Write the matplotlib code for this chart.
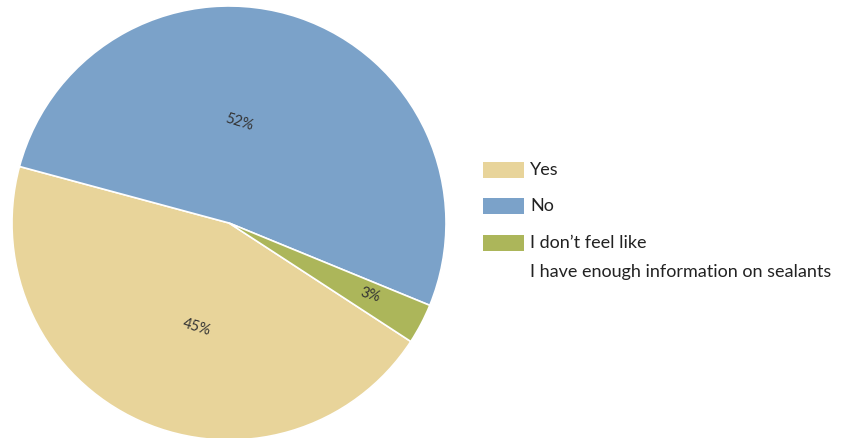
import numpy as np
import matplotlib
matplotlib.use("Agg")
import matplotlib.pyplot as plt
from matplotlib.patches import Rectangle

# survey answers
labels = ["Yes", "No", "I don\u2019t feel like\nI have enough information on sealants"]
values = [45, 52, 3]
colors = ["#E8D49A", "#7BA2C9", "#ACB65A"]

W, H = 852, 439
fig = plt.figure(figsize=(W / 100, H / 100), dpi=100)

# pie centre and radius in pixels
cx, cy, r = 229, 224, 217
ax = fig.add_axes([(cx - r) / W, (H - cy - r) / H, 2 * r / W, 2 * r / H])
wedges, _ = ax.pie(values, colors=colors, startangle=-33.1, counterclock=False,
                   wedgeprops=dict(edgecolor="white", linewidth=1.2))
ax.set_xlim(-1, 1)
ax.set_ylim(-1, 1)
ax.set_aspect("equal")
ax.axis("off")

# percent labels: offset from mid angle and radius, tweaked to match
label_offsets = [(7, 0.50), (13, 0.47), (1, 0.73)]
for w, v, (doff, rad) in zip(wedges, values, label_offsets):
    mid = np.deg2rad((w.theta1 + w.theta2) / 2 + doff)
    ax.text(rad * np.cos(mid), rad * np.sin(mid), f"{v}%", ha="center", va="center",
            rotation=-17, fontsize=10.5, family="Lato", color="#333333")

# legend drawn by hand
box_x, box_w, box_h = 483, 41, 16
box_y = [163, 199, 236]
line_gap = 29
for lab, col, y in zip(labels, colors, box_y):
    fig.add_artist(Rectangle((box_x / W, 1 - (y + box_h) / H), box_w / W, box_h / H,
                             transform=fig.transFigure, facecolor=col, edgecolor="none"))
    for i, line in enumerate(lab.split("\n")):
        ty = y + box_h / 2 - 1 + i * line_gap
        fig.text(530 / W, 1 - ty / H, line, ha="left", va="center",
                 fontsize=13, family="Lato", color="#222222")

fig.savefig("out.png", dpi=100)
